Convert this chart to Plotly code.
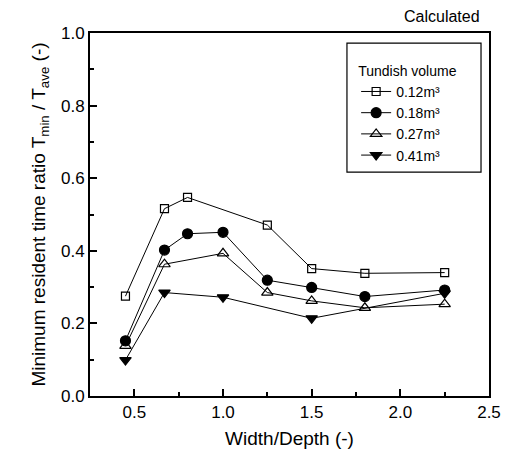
import plotly.graph_objects as go

x_012 = [0.45, 0.67, 0.8, 1.25, 1.5, 1.8, 2.25]
y_012 = [0.275, 0.516, 0.547, 0.471, 0.351, 0.338, 0.340]

x_018 = [0.45, 0.67, 0.8, 1.0, 1.25, 1.5, 1.8, 2.25]
y_018 = [0.152, 0.402, 0.447, 0.451, 0.319, 0.299, 0.274, 0.292]

x_027 = [0.45, 0.67, 1.0, 1.25, 1.5, 1.8, 2.25]
y_027 = [0.138, 0.363, 0.393, 0.285, 0.262, 0.243, 0.253]

x_041 = [0.45, 0.67, 1.0, 1.5, 2.25]
y_041 = [0.099, 0.285, 0.272, 0.214, 0.283]

series_names = ["0.12m³", "0.18m³", "0.27m³", "0.41m³"]

FONT = "Liberation Sans, Arial, sans-serif"

fig = go.Figure()
specs = [
    (x_012, y_012, "square-open", 8),
    (x_018, y_018, "circle", 10),
    (x_027, y_027, "triangle-up-open", 10),
    (x_041, y_041, "triangle-down", 10),
]
for (xs, ys, sym, sz), name in zip(specs, series_names):
    fig.add_trace(go.Scatter(
        x=xs, y=ys, mode="lines+markers", name=name,
        line=dict(color="black", width=1),
        marker=dict(symbol=sym, size=sz, color="black",
                    line=dict(color="black", width=1.2)),
    ))

axis_common = dict(
    showline=True, linecolor="black", linewidth=2, mirror=True,
    ticks="inside", ticklen=7, tickwidth=1.5, tickcolor="black",
    showgrid=False, zeroline=False,
    tickfont=dict(family=FONT, size=17, color="black"),
)

fig.update_xaxes(
    range=[0.25, 2.5], tick0=0.5, dtick=0.5, tickformat=".1f",
    minor=dict(ticks="inside", ticklen=4, dtick=0.25, tick0=0.25, tickcolor="black"),
    title=dict(text="Width/Depth (-)", font=dict(family=FONT, size=19, color="black"), standoff=10),
    **axis_common,
)
fig.update_yaxes(
    range=[0.0, 1.0], tick0=0, dtick=0.2, tickformat=".1f",
    minor=dict(ticks="inside", ticklen=4, dtick=0.1, tickcolor="black"),
    title=dict(text="Minimum resident time ratio T<sub>min</sub> / T<sub>ave</sub> (-)",
               font=dict(family=FONT, size=19, color="black"), standoff=10),
    **axis_common,
)

fig.update_layout(
    width=506, height=453,
    margin=dict(l=82, r=25, t=25, b=65),
    plot_bgcolor="white", paper_bgcolor="white",
    font=dict(family=FONT, color="black"),
    showlegend=True,
    legend=dict(
        x=0.667, y=0.932, xanchor="left", yanchor="top",
        borderwidth=0, bgcolor="rgba(0,0,0,0)",
        title=dict(text="Tundish volume", font=dict(family=FONT, size=14, color="black")),
        font=dict(family=FONT, size=14, color="black"),
        tracegroupgap=0, itemwidth=30,
    ),
    shapes=[dict(
        type="rect", xref="paper", yref="paper",
        x0=0.644, x1=0.980, y0=0.617, y1=0.972,
        line=dict(color="black", width=1.2), fillcolor="rgba(0,0,0,0)", layer="below",
    )],
    annotations=[dict(
        text="Calculated", xref="paper", yref="paper", x=0.982, y=1.046,
        xanchor="right", yanchor="middle", showarrow=False,
        font=dict(family=FONT, size=16, color="black"),
    )],
)

fig.write_html("out.html")
